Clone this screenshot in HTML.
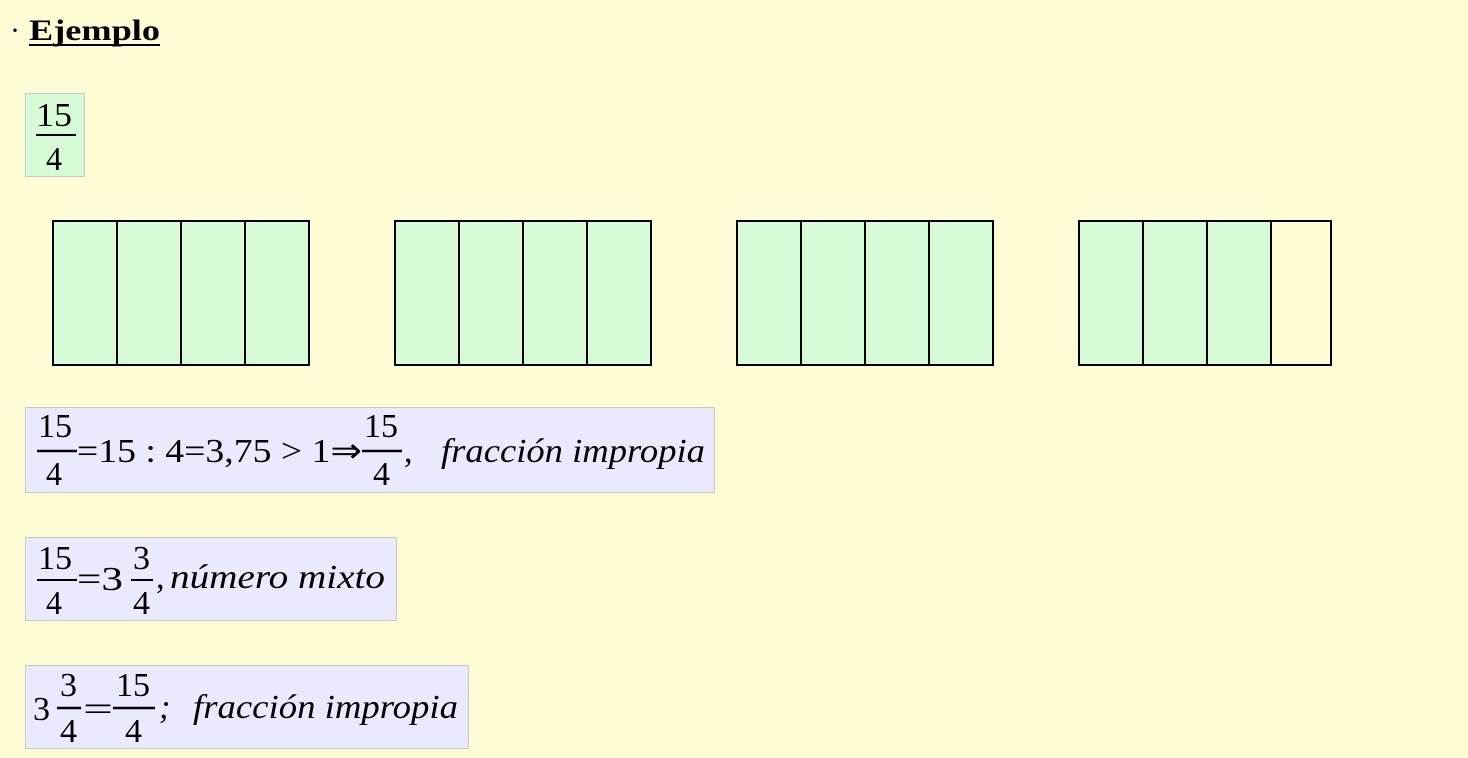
<!DOCTYPE html>
<html><head><meta charset="utf-8"><style>
html,body{margin:0;padding:0;background:#fffcd6;width:1468px;height:758px;overflow:hidden}
svg{display:block}
text{font-family:"Liberation Serif","Times New Roman",serif;fill:#000}
.i{font-style:italic}
</style></head><body>
<svg width="1468" height="758" viewBox="0 0 1468 758">
<rect width="1468" height="758" fill="#fffcd6"/>
<text x="10" y="40" font-size="30">·</text>
<text x="29" y="40" font-size="30" font-weight="bold" textLength="131" lengthAdjust="spacingAndGlyphs">Ejemplo</text>
<line x1="29" y1="45" x2="160" y2="45" stroke="#000" stroke-width="2"/>

<rect x="25.5" y="93.5" width="59" height="83" fill="#d6fbd6" stroke="#c8c8c8"/>
<text x="36" y="126" font-size="34" textLength="36" lengthAdjust="spacingAndGlyphs">15</text>
<line x1="36" y1="135" x2="76" y2="135" stroke="#000" stroke-width="2"/>
<text x="46" y="170" font-size="34" textLength="16" lengthAdjust="spacingAndGlyphs">4</text>

<g stroke="#000" stroke-width="2" fill="#d6fbd6">
<rect x="53" y="221" width="256" height="144"/>
<rect x="395" y="221" width="256" height="144"/>
<rect x="737" y="221" width="256" height="144"/>
<rect x="1079" y="221" width="252" height="144"/>
<rect x="1271" y="221" width="60" height="144" fill="#fffcd6"/>
<path d="M117 221V365M181 221V365M245 221V365M459 221V365M523 221V365M587 221V365M801 221V365M865 221V365M929 221V365M1143 221V365M1207 221V365M1271 221V365" fill="none"/>
</g>

<rect x="25.5" y="407.5" width="689" height="85" fill="#eaeaff" stroke="#c8c8c8"/>
<text x="38" y="437" font-size="34" textLength="34" lengthAdjust="spacingAndGlyphs">15</text>
<line x1="37" y1="451" x2="77" y2="451" stroke="#000" stroke-width="2.5"/>
<text x="46" y="485" font-size="34" textLength="16" lengthAdjust="spacingAndGlyphs">4</text>
<text x="77" y="462" font-size="34" textLength="285" lengthAdjust="spacingAndGlyphs">=15 : 4=3,75 &gt; 1⇒</text>
<text x="364" y="437" font-size="34" textLength="34" lengthAdjust="spacingAndGlyphs">15</text>
<line x1="362" y1="451" x2="402" y2="451" stroke="#000" stroke-width="2.5"/>
<text x="373" y="485" font-size="34" textLength="17" lengthAdjust="spacingAndGlyphs">4</text>
<text x="404" y="462" font-size="34">,</text>
<text class="i" x="441" y="462" font-size="34" textLength="264" lengthAdjust="spacingAndGlyphs">fracción impropia</text>

<rect x="25.5" y="537.5" width="371" height="83" fill="#eaeaff" stroke="#c8c8c8"/>
<text x="38" y="569" font-size="34" textLength="34" lengthAdjust="spacingAndGlyphs">15</text>
<line x1="37" y1="580" x2="77" y2="580" stroke="#000" stroke-width="2"/>
<text x="46" y="614" font-size="34" textLength="16" lengthAdjust="spacingAndGlyphs">4</text>
<text x="77" y="590" font-size="34" textLength="46" lengthAdjust="spacingAndGlyphs">=3</text>
<text x="133" y="569" font-size="34" textLength="17" lengthAdjust="spacingAndGlyphs">3</text>
<line x1="131" y1="580" x2="153" y2="580" stroke="#000" stroke-width="2"/>
<text x="133" y="614" font-size="34" textLength="17" lengthAdjust="spacingAndGlyphs">4</text>
<text x="156" y="588" font-size="34">,</text>
<text class="i" x="170" y="588" font-size="34" textLength="215" lengthAdjust="spacingAndGlyphs">número mixto</text>

<rect x="25.5" y="665.5" width="443" height="83" fill="#eaeaff" stroke="#c8c8c8"/>
<text x="33" y="720" font-size="34">3</text>
<text x="60" y="696" font-size="34" textLength="17" lengthAdjust="spacingAndGlyphs">3</text>
<line x1="57" y1="708" x2="81" y2="708" stroke="#000" stroke-width="2.5"/>
<text x="60" y="742" font-size="34" textLength="17" lengthAdjust="spacingAndGlyphs">4</text>
<text x="83" y="720" font-size="34" textLength="30" lengthAdjust="spacingAndGlyphs">=</text>
<text x="116" y="696" font-size="34" textLength="34" lengthAdjust="spacingAndGlyphs">15</text>
<line x1="113" y1="708" x2="155" y2="708" stroke="#000" stroke-width="2.5"/>
<text x="125" y="742" font-size="34" textLength="17" lengthAdjust="spacingAndGlyphs">4</text>
<text class="i" x="159" y="718" font-size="34">;</text>
<text class="i" x="193" y="718" font-size="34" textLength="265" lengthAdjust="spacingAndGlyphs">fracción impropia</text>
</svg>
</body></html>
